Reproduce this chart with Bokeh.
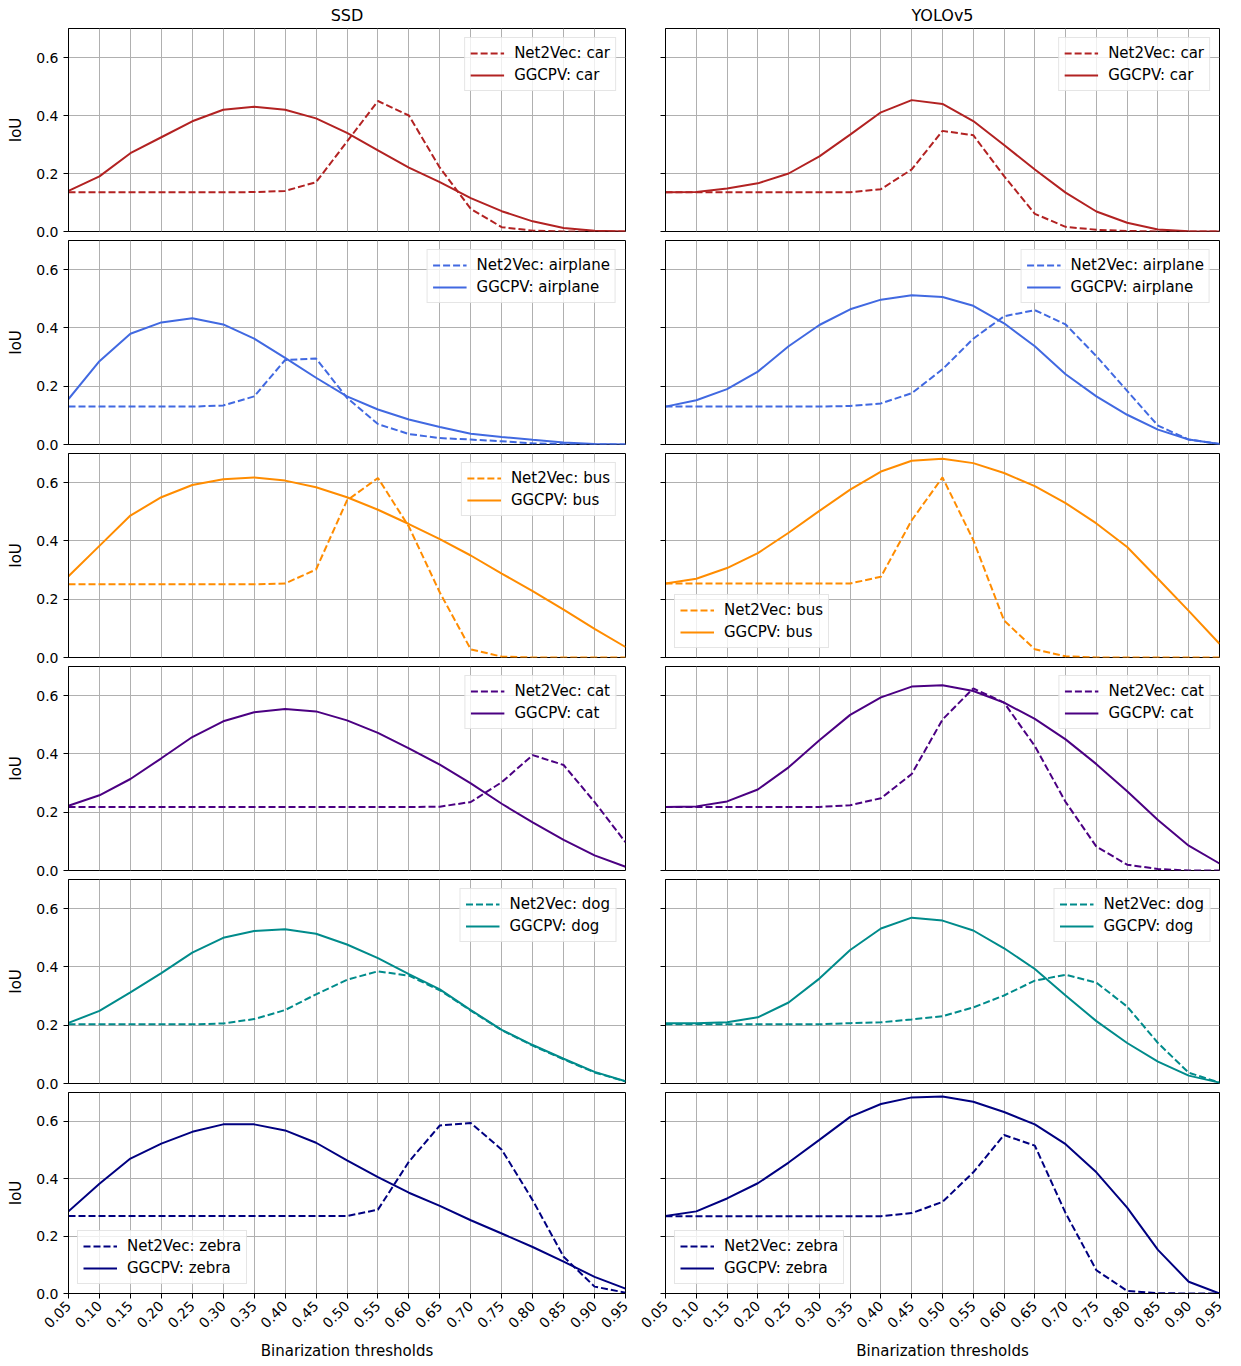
import math
from bokeh.plotting import figure
from bokeh.layouts import column, row
from bokeh.models import Range1d, FixedTicker, NumeralTickFormatter, CustomJSTickFormatter
from bokeh.embed import file_html
from bokeh.resources import INLINE

thresholds = [0.05, 0.10, 0.15, 0.20, 0.25, 0.30, 0.35, 0.40, 0.45, 0.50,
              0.55, 0.60, 0.65, 0.70, 0.75, 0.80, 0.85, 0.90, 0.95]
x_tick_labels = ["%.2f" % t for t in thresholds]
y_ticks = [0.0, 0.2, 0.4, 0.6]

column_titles = ["SSD", "YOLOv5"]
classes = ["car", "airplane", "bus", "cat", "dog", "zebra"]
class_colors = ["#b22222", "#4169e1", "#ff8c00", "#4b0082", "#008b8b", "#000080"]

# SSD
ssd_car_net2vec = [0.135, 0.135, 0.135, 0.135, 0.135, 0.135, 0.136, 0.14, 0.17, 0.31,
                   0.45, 0.40, 0.22, 0.078, 0.015, 0.003, 0.0, 0.0, 0.0]
ssd_car_ggcpv = [0.14, 0.19, 0.27, 0.325, 0.38, 0.42, 0.43, 0.42, 0.39, 0.34,
                 0.28, 0.22, 0.17, 0.115, 0.07, 0.035, 0.012, 0.003, 0.0]
ssd_airplane_net2vec = [0.13, 0.13, 0.13, 0.13, 0.13, 0.134, 0.165, 0.29, 0.295, 0.16,
                        0.07, 0.036, 0.022, 0.017, 0.011, 0.004, 0.001, 0.0, 0.0]
ssd_airplane_ggcpv = [0.156, 0.286, 0.38, 0.419, 0.433, 0.412, 0.363, 0.297, 0.229, 0.165,
                      0.12, 0.086, 0.06, 0.037, 0.026, 0.016, 0.007, 0.002, 0.0]
ssd_bus_net2vec = [0.251, 0.251, 0.251, 0.251, 0.251, 0.251, 0.251, 0.254, 0.302, 0.539,
                   0.616, 0.449, 0.223, 0.028, 0.003, 0.0, 0.0, 0.0, 0.0]
ssd_bus_ggcpv = [0.279, 0.383, 0.487, 0.55, 0.592, 0.612, 0.618, 0.607, 0.584, 0.55,
                 0.507, 0.458, 0.406, 0.35, 0.288, 0.228, 0.164, 0.098, 0.036]
ssd_cat_net2vec = [0.218, 0.218, 0.218, 0.218, 0.218, 0.218, 0.218, 0.218, 0.218, 0.218,
                   0.218, 0.218, 0.219, 0.235, 0.303, 0.396, 0.362, 0.235, 0.097]
ssd_cat_ggcpv = [0.222, 0.258, 0.314, 0.385, 0.458, 0.512, 0.543, 0.554, 0.546, 0.515,
                 0.472, 0.419, 0.363, 0.299, 0.229, 0.165, 0.105, 0.052, 0.013]
ssd_dog_net2vec = [0.203, 0.203, 0.203, 0.203, 0.203, 0.206, 0.221, 0.252, 0.306, 0.356,
                   0.385, 0.37, 0.32, 0.25, 0.183, 0.13, 0.083, 0.038, 0.007]
ssd_dog_ggcpv = [0.208, 0.249, 0.313, 0.379, 0.449, 0.5, 0.523, 0.529, 0.514, 0.477,
                 0.43, 0.375, 0.323, 0.252, 0.184, 0.132, 0.085, 0.04, 0.008]
ssd_zebra_net2vec = [0.27, 0.27, 0.27, 0.27, 0.27, 0.27, 0.27, 0.27, 0.27, 0.27,
                     0.292, 0.459, 0.585, 0.594, 0.501, 0.325, 0.128, 0.024, 0.003]
ssd_zebra_ggcpv = [0.286, 0.382, 0.47, 0.522, 0.563, 0.589, 0.589, 0.568, 0.525, 0.464,
                   0.405, 0.351, 0.305, 0.255, 0.209, 0.162, 0.111, 0.058, 0.017]

# YOLOv5
yolo_car_net2vec = [0.135, 0.135, 0.135, 0.135, 0.135, 0.135, 0.135, 0.146, 0.214, 0.347,
                    0.332, 0.191, 0.061, 0.016, 0.006, 0.002, 0.0, 0.0, 0.0]
yolo_car_ggcpv = [0.135, 0.136, 0.148, 0.166, 0.2, 0.259, 0.334, 0.411, 0.453, 0.44,
                  0.381, 0.298, 0.214, 0.134, 0.069, 0.03, 0.007, 0.001, 0.0]
yolo_airplane_net2vec = [0.13, 0.13, 0.13, 0.13, 0.13, 0.13, 0.132, 0.141, 0.176, 0.258,
                         0.363, 0.44, 0.461, 0.412, 0.303, 0.184, 0.065, 0.017, 0.002]
yolo_airplane_ggcpv = [0.13, 0.152, 0.19, 0.25, 0.337, 0.41, 0.464, 0.497, 0.512, 0.506,
                       0.476, 0.416, 0.337, 0.241, 0.165, 0.102, 0.051, 0.017, 0.002]
yolo_bus_net2vec = [0.254, 0.254, 0.254, 0.254, 0.254, 0.254, 0.254, 0.277, 0.471, 0.618,
                    0.403, 0.127, 0.028, 0.004, 0.0, 0.0, 0.0, 0.0, 0.0]
yolo_bus_ggcpv = [0.254, 0.27, 0.307, 0.358, 0.428, 0.503, 0.576, 0.638, 0.675, 0.682,
                  0.667, 0.633, 0.588, 0.53, 0.46, 0.379, 0.27, 0.16, 0.047]
yolo_cat_net2vec = [0.218, 0.218, 0.218, 0.218, 0.218, 0.218, 0.224, 0.248, 0.331, 0.518,
                    0.625, 0.576, 0.427, 0.235, 0.082, 0.02, 0.005, 0.0, 0.0]
yolo_cat_ggcpv = [0.218, 0.22, 0.237, 0.278, 0.354, 0.447, 0.534, 0.594, 0.631, 0.636,
                  0.616, 0.576, 0.52, 0.45, 0.365, 0.272, 0.173, 0.085, 0.024]
yolo_dog_net2vec = [0.203, 0.203, 0.203, 0.203, 0.203, 0.203, 0.207, 0.21, 0.22, 0.231,
                    0.261, 0.302, 0.353, 0.373, 0.346, 0.264, 0.139, 0.037, 0.003]
yolo_dog_ggcpv = [0.207, 0.207, 0.21, 0.227, 0.278, 0.36, 0.458, 0.532, 0.569, 0.559,
                  0.525, 0.464, 0.393, 0.302, 0.214, 0.139, 0.075, 0.027, 0.003]
yolo_zebra_net2vec = [0.269, 0.269, 0.269, 0.269, 0.269, 0.269, 0.269, 0.269, 0.28, 0.319,
                      0.422, 0.552, 0.515, 0.28, 0.081, 0.009, 0.001, 0.0, 0.0]
yolo_zebra_ggcpv = [0.27, 0.286, 0.331, 0.384, 0.456, 0.535, 0.615, 0.66, 0.683, 0.686,
                    0.668, 0.632, 0.589, 0.52, 0.422, 0.299, 0.152, 0.041, 0.0]

ssd_series = [(ssd_car_net2vec, ssd_car_ggcpv), (ssd_airplane_net2vec, ssd_airplane_ggcpv),
              (ssd_bus_net2vec, ssd_bus_ggcpv), (ssd_cat_net2vec, ssd_cat_ggcpv),
              (ssd_dog_net2vec, ssd_dog_ggcpv), (ssd_zebra_net2vec, ssd_zebra_ggcpv)]
yolo_series = [(yolo_car_net2vec, yolo_car_ggcpv), (yolo_airplane_net2vec, yolo_airplane_ggcpv),
               (yolo_bus_net2vec, yolo_bus_ggcpv), (yolo_cat_net2vec, yolo_cat_ggcpv),
               (yolo_dog_net2vec, yolo_dog_ggcpv), (yolo_zebra_net2vec, yolo_zebra_ggcpv)]
legend_locations = [
    ["top_right", "top_right"],
    ["top_right", "top_right"],
    ["top_right", "bottom_left"],
    ["top_right", "top_right"],
    ["top_right", "top_right"],
    ["bottom_left", "bottom_left"],
]

FONT = "DejaVu Sans"
FRAME_H = 204


def make_fig(r, c, n2v, gg, color, cls, loc):
    left = c == 0
    top = r == 0
    bottom = r == 5
    mb_top = 27 if top else 1
    mb_bottom = 66 if bottom else 8
    h = mb_top + FRAME_H + mb_bottom
    w = 630 if left else 599
    p = figure(width=w, height=h, output_backend="svg", toolbar_location=None,
               x_range=Range1d(0.05, 0.95), y_range=Range1d(0.0, 0.7),
               min_border_left=68 if left else 35, min_border_right=5 if left else 10,
               min_border_top=mb_top, min_border_bottom=mb_bottom,
               title=column_titles[c] if top else None)
    if top:
        p.title.align = "center"
        p.title.text_font = FONT
        p.title.text_font_size = "16px"
        p.title.text_font_style = "normal"
        p.title.text_color = "black"
        p.title.standoff = 7
    p.outline_line_color = "black"
    p.outline_line_width = 1
    p.outline_line_alpha = 1

    p.line(thresholds, n2v, color=color, line_width=2, line_dash="7 3",
           legend_label="Net2Vec: " + cls)
    p.line(thresholds, gg, color=color, line_width=2, legend_label="GGCPV: " + cls)

    p.xaxis.ticker = FixedTicker(ticks=thresholds, minor_ticks=[])
    p.yaxis.ticker = FixedTicker(ticks=y_ticks, minor_ticks=[])
    p.xgrid.grid_line_color = "#b0b0b0"
    p.ygrid.grid_line_color = "#b0b0b0"
    p.xgrid.grid_line_width = 1
    p.ygrid.grid_line_width = 1

    for ax in list(p.xaxis) + list(p.yaxis):
        ax.axis_line_color = "black"
        ax.major_tick_line_color = "black"
        ax.major_tick_out = 5
        ax.major_tick_in = 0
        ax.major_label_text_font = FONT
        ax.major_label_text_font_size = "14px"
        ax.major_label_text_color = "black"
        ax.axis_label_text_font = FONT
        ax.axis_label_text_font_size = "15px"
        ax.axis_label_text_font_style = "normal"
        ax.axis_label_text_color = "black"

    if left:
        p.yaxis.formatter = NumeralTickFormatter(format="0.0")
        p.yaxis.axis_label = "IoU"
        p.yaxis.axis_label_standoff = 8
    else:
        p.yaxis.formatter = CustomJSTickFormatter(code="return ''")

    if bottom:
        p.xaxis.major_label_overrides = {t: l for t, l in zip(thresholds, x_tick_labels)}
        p.xaxis.major_label_orientation = math.pi / 4
        p.xaxis.axis_label = "Binarization thresholds"
        p.xaxis.axis_label_standoff = 6
    else:
        p.xaxis.visible = False

    lg = p.legend[0]
    lg.location = loc
    lg.label_text_font = FONT
    lg.label_text_font_size = "15px"
    lg.label_text_color = "black"
    lg.border_line_color = "#cccccc"
    lg.border_line_width = 1
    lg.background_fill_alpha = 0.8
    lg.padding = 5
    lg.spacing = 2
    lg.margin = 9
    lg.glyph_width = 34
    lg.glyph_height = 20
    lg.label_height = 20
    lg.label_standoff = 10
    return p


rows = []
for r in range(6):
    figs = []
    for c, series in enumerate([ssd_series, yolo_series]):
        n2v, gg = series[r]
        figs.append(make_fig(r, c, n2v, gg, class_colors[r], classes[r], legend_locations[r][c]))
    rows.append(row(*figs))

layout = column(*rows)
open("out.html", "w").write(file_html(layout, INLINE))
